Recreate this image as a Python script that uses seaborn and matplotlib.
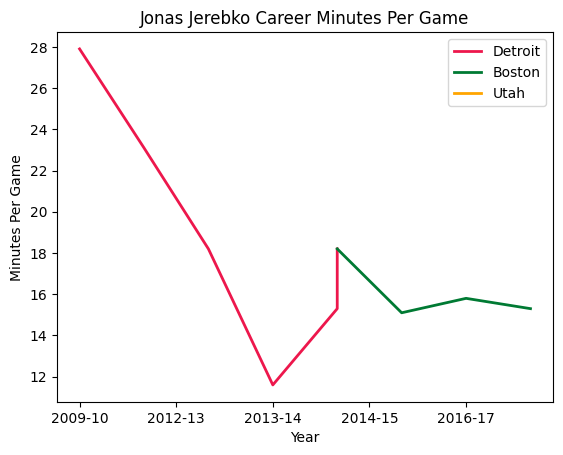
import pandas as pd
import matplotlib
matplotlib.use("Agg")
import matplotlib.pyplot as plt
import seaborn as sns

# season index along the x axis, minutes per game per team
detroit_x = [0, 1, 2, 3, 4, 4]
detroit_mpg = [27.9, 23.1, 18.2, 11.6, 15.3, 18.2]
boston_x = [4, 5, 6, 7]
boston_mpg = [18.2, 15.1, 15.8, 15.3]
utah_x = [7]
utah_mpg = [15.3]

tick_pos = [0, 1.5, 3, 4.5, 6]
tick_labels = ["2009-10", "2012-13", "2013-14", "2014-15", "2016-17"]

teams = {
    "Detroit": (detroit_x, detroit_mpg, "#ED174C"),
    "Boston": (boston_x, boston_mpg, "#007A33"),
    "Utah": (utah_x, utah_mpg, "#FFA500"),
}

fig, ax = plt.subplots(figsize=(6.4, 4.8), dpi=100)

for name, (xs, ys, color) in teams.items():
    df = pd.DataFrame({"x": xs, "mpg": ys})
    sns.lineplot(data=df, x="x", y="mpg", estimator=None, sort=False,
                 color=color, linewidth=2, label=name, ax=ax)

ax.set_xticks(tick_pos)
ax.set_xticklabels(tick_labels)
ax.set_title("Jonas Jerebko Career Minutes Per Game")
ax.set_xlabel("Year")
ax.set_ylabel("Minutes Per Game")
ax.legend(loc="upper right")

plt.savefig("out.png", dpi=100, bbox_inches="tight")
plt.close()
